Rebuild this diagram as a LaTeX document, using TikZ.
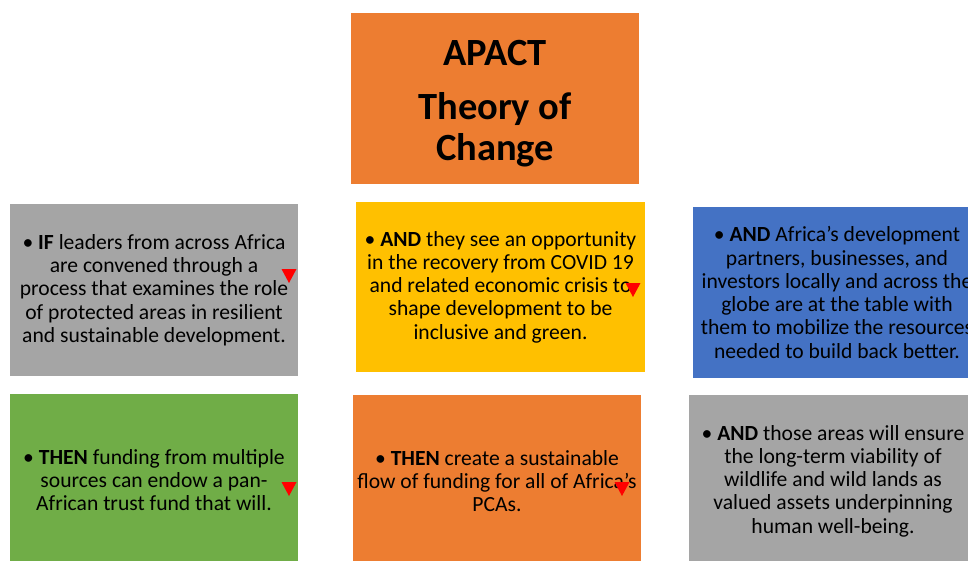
\documentclass[tikz,border=0pt]{standalone}
\usepackage{fontspec}
\setmainfont{Carlito}
\usepackage{tikz}
\usetikzlibrary{positioning}
\usepackage{xcolor}
\definecolor{tocorange}{HTML}{ED7D31}
\definecolor{tocgray}{HTML}{A5A5A5}
\definecolor{tocyellow}{HTML}{FFC000}
\definecolor{tocblue}{HTML}{4472C4}
\definecolor{tocgreen}{HTML}{70AD47}

\begin{document}
\begin{tikzpicture}[x=1pt, y=-1pt,
    card/.style={minimum width=288pt, minimum height=172pt, inner sep=0pt,
        align=center, font=\fontsize{21.6}{23.3}\selectfont},
    titlecard/.style={card, fill=tocorange, font=\fontsize{38.5}{41.5}\selectfont\bfseries},
    pics/downtri/.style={code={\fill[red] (-7.5,-7) -- (7.5,-7) -- (0,7) -- cycle;}}]
    \useasboundingbox (0,0) rectangle (968,560);
    \clip (0,0) rectangle (968,560);

    % 标题
    \node[titlecard, minimum height=171pt] (title) at (495,98)
        {\rule{0pt}{37pt}APACT\\[12.5pt]Theory of\\Change};

    % 第一行
    \node[card, fill=tocgray] (leaders) at (154,290)
        {• \textbf{IF} leaders from across Africa\\are convened through a\\process that examines the role\\of protected areas in resilient\\and sustainable development.};
    \node[card, fill=tocyellow, minimum width=289pt, minimum height=170pt] (recovery) at (500.5,287)
        {• \textbf{AND} they see an opportunity\\in the recovery from COVID 19\\and related economic crisis to\\shape development to be\\inclusive and green.};
    \node[card, fill=tocblue, minimum height=171pt] (partners) at (837,292.5)
        {• \textbf{AND} Africa’s development\\partners, businesses, and\\investors locally and across the\\globe are at the table with\\them to mobilize the resources\\needed to build back better.};

    % 第二行
    \node[card, fill=tocgreen] (endow) at (154,480)
        {• \textbf{THEN} funding from multiple\\sources can endow a pan-\\African trust fund that will.};
    \node[card, fill=tocorange] (flow) at (497,481)
        {• \textbf{THEN} create a sustainable\\flow of funding for all of Africa’s\\PCAs.};
    \node[card, fill=tocgray] (wildlife) at (833,481)
        {• \textbf{AND} those areas will ensure\\the long-term viability of\\wildlife and wild lands as\\valued assets underpinning\\human well-being.};

    % 红色三角
    \pic at (289,276) {downtri};
    \pic at (633,290) {downtri};
    \pic at (289,489) {downtri};
    \pic at (622,489) {downtri};
\end{tikzpicture}
\end{document}
